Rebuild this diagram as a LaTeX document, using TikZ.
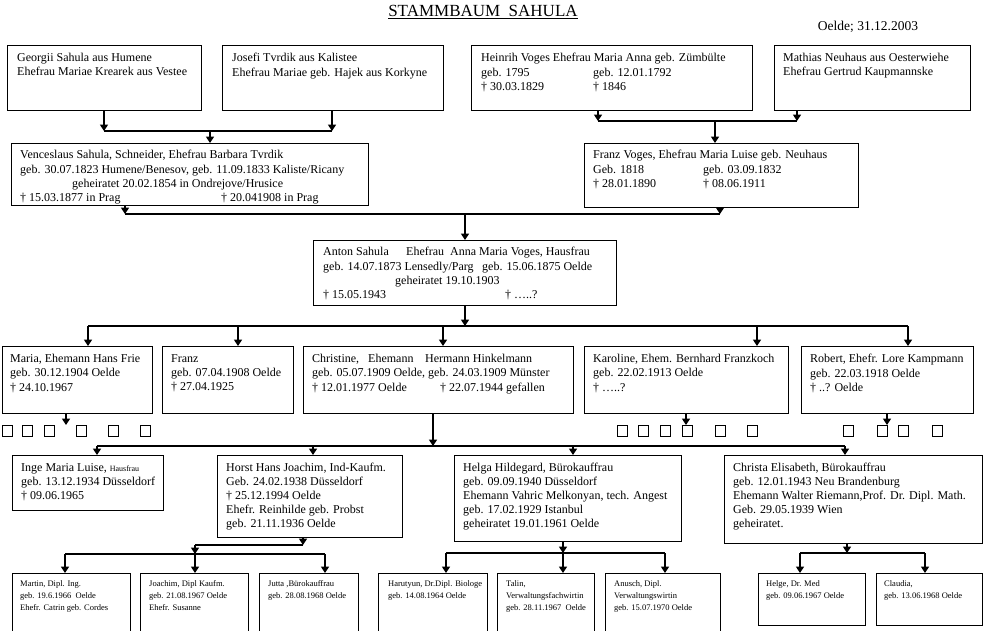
\documentclass[tikz,border=0pt]{standalone}
\usepackage{fontspec}
\setmainfont{Liberation Serif}
\usetikzlibrary{arrows.meta}
\begin{document}
\begin{tikzpicture}[x=1pt,y=-1pt,
  box/.style={draw, line width=0.8pt, rectangle, inner sep=0pt, anchor=north west},
  txt/.style={anchor=north west, inner sep=0pt, align=left, font=\fontsize{12}{14.4}\selectfont},
  txtb/.style={anchor=north west, inner sep=0pt, align=left, font=\fontsize{12}{14}\selectfont},
  small/.style={anchor=north west, inner sep=0pt, align=left, font=\fontsize{8.5}{12}\selectfont},
  con/.style={line width=1.3pt},
  arr/.style={line width=1.8pt, -{Triangle[length=6.5pt,width=8pt]}},
  sq/.style={draw, line width=0.8pt, minimum width=10pt, minimum height=11pt, inner sep=0pt, anchor=north west},
]
\useasboundingbox (0,0) rectangle (986,630);
\clip (0,0) rectangle (986,630);

% title
\node[font=\fontsize{17}{19}\selectfont, inner sep=0pt] (title) at (483,12) {\underline{STAMMBAUM\ \ SAHULA}};
\node[font=\fontsize{13.5}{15}\selectfont, inner sep=0pt] (date) at (868,27) {Oelde; 31.12.2003};

% row 1
\node[box, minimum width=194pt, minimum height=65pt] (g) at (7,45) {};
\node[txt] (gT) at (17,53) {Georgii Sahula aus Humene\\Ehefrau Mariae Krearek aus Vestee};
\node[box, minimum width=221pt, minimum height=65pt] (j) at (222,45) {};
\node[txt] (jT) at (232,53) {Josefi Tvrdik aus Kalistee\\Ehefrau Mariae geb. Hajek aus Korkyne};
\node[box, minimum width=281pt, minimum height=65pt] (h) at (471,45) {};
\node[txt] (hT) at (481,53) {Heinrih Voges Ehefrau Maria Anna geb. Zümbülte\\
  \makebox[112pt][l]{geb. 1795}geb. 12.01.1792\\
  \makebox[112pt][l]{† 30.03.1829}† 1846};
\node[box, minimum width=196pt, minimum height=65pt] (m) at (774,45) {};
\node[txt] (mT) at (783,53) {Mathias Neuhaus aus Oesterwiehe\\Ehefrau Gertrud Kaupmannske};

% row 2
\node[box, minimum width=357pt, minimum height=62pt] (v) at (11,143) {};
\node[txt] (vT) at (20,150) {Venceslaus Sahula, Schneider, Ehefrau Barbara Tvrdik\\
  geb. 30.07.1823 Humene/Benesov, geb. 11.09.1833 Kaliste/Ricany\\
  \hspace*{52pt}geheiratet 20.02.1854 in Ondrejove/Hrusice\\
  \makebox[201pt][l]{† 15.03.1877 in Prag}† 20.041908 in Prag};
\node[box, minimum width=274pt, minimum height=64pt] (f) at (584,143) {};
\node[txt] (fT) at (593,150) {Franz Voges, Ehefrau Maria Luise geb. Neuhaus\\
  \makebox[110pt][l]{Geb. 1818}geb. 03.09.1832\\
  \makebox[110pt][l]{† 28.01.1890}† 08.06.1911};

% row 3
\node[box, minimum width=303pt, minimum height=65pt] (a) at (313,240) {};
\node[txt] (aT) at (323,247) {\makebox[83pt][l]{Anton Sahula}Ehefrau\ \ Anna Maria Voges, Hausfrau\\
  \makebox[159pt][l]{geb. 14.07.1873 Lensedly/Parg}geb. 15.06.1875 Oelde\\
  \hspace*{72pt}geheiratet 19.10.1903\\
  \makebox[182pt][l]{† 15.05.1943}† …..?};

% row 4
\node[box, minimum width=150pt, minimum height=67pt] (c1) at (2,346) {};
\node[txt] (c1T) at (10,354) {Maria, Ehemann Hans Frie\\geb. 30.12.1904 Oelde\\† 24.10.1967};
\node[box, minimum width=131pt, minimum height=67pt] (c2) at (162,346) {};
\node[txt] (c2T) at (171,354) {Franz\\geb. 07.04.1908 Oelde\\† 27.04.1925};
\node[box, minimum width=270pt, minimum height=67pt] (c3) at (303,346) {};
\node[txt] (c3T) at (312,354) {\makebox[56pt][l]{Christine,}\makebox[57pt][l]{Ehemann}Hermann Hinkelmann\\
  geb. 05.07.1909 Oelde, geb. 24.03.1909 Münster\\
  \makebox[128pt][l]{† 12.01.1977 Oelde}† 22.07.1944 gefallen};
\node[box, minimum width=204pt, minimum height=67pt] (c4) at (584,346) {};
\node[txt] (c4T) at (593,354) {Karoline, Ehem. Bernhard Franzkoch\\geb. 22.02.1913 Oelde\\† …..?};
\node[box, minimum width=172pt, minimum height=67pt] (c5) at (801,346) {};
\node[txt] (c5T) at (810,354) {Robert, Ehefr. Lore Kampmann\\geb. 22.03.1918 Oelde\\† ..? Oelde};

% small squares
\foreach \i/\x in {1/2,2/22,3/44,4/76,5/108,6/140}{\node[sq] (s1\i) at (\x,425) {};}
\foreach \i/\x in {1/617,2/638,3/660,4/682,5/715,6/747}{\node[sq] (s4\i) at (\x,425) {};}
\foreach \i/\x in {1/843,2/877,3/898,4/932}{\node[sq] (s5\i) at (\x,425) {};}

% row 5
\node[box, minimum width=151pt, minimum height=55pt] (g1) at (12,455) {};
\node[txtb] (g1T) at (21,463) {Inge Maria Luise, {\fontsize{8}{10}\selectfont Hausfrau}\\geb. 13.12.1934 Düsseldorf\\† 09.06.1965};
\node[box, minimum width=185pt, minimum height=82pt] (g2) at (217,455) {};
\node[txtb] (g2T) at (226,463) {Horst Hans Joachim, Ind-Kaufm.\\Geb. 24.02.1938 Düsseldorf\\† 25.12.1994 Oelde\\Ehefr. Reinhilde geb. Probst\\geb. 21.11.1936 Oelde};
\node[box, minimum width=227pt, minimum height=86pt] (g3) at (454,455) {};
\node[txtb] (g3T) at (463,463) {Helga Hildegard, Bürokauffrau\\geb. 09.09.1940 Düsseldorf\\Ehemann Vahric Melkonyan, tech. Angest\\geb. 17.02.1929 Istanbul\\geheiratet 19.01.1961 Oelde};
\node[box, minimum width=258pt, minimum height=88pt] (g4) at (724,455) {};
\node[txtb] (g4T) at (733,463) {Christa Elisabeth, Bürokauffrau\\geb. 12.01.1943 Neu Brandenburg\\Ehemann Walter Riemann,Prof. Dr. Dipl. Math.\\Geb. 29.05.1939 Wien\\geheiratet.};

% row 6
\node[box, minimum width=118pt, minimum height=70pt] (e1) at (12,573) {};
\node[small] (e1T) at (20,580) {Martin, Dipl. Ing.\\geb. 19.6.1966\ \ Oelde\\Ehefr. Catrin geb. Cordes};
\node[box, minimum width=108pt, minimum height=70pt] (e2) at (140,573) {};
\node[small] (e2T) at (149,580) {Joachim, Dipl Kaufm.\\geb. 21.08.1967 Oelde\\Ehefr. Susanne};
\node[box, minimum width=99pt, minimum height=70pt] (e3) at (259,573) {};
\node[small] (e3T) at (268,580) {Jutta ,Bürokauffrau\\geb. 28.08.1968 Oelde};
\node[box, minimum width=109pt, minimum height=70pt] (e4) at (378,573) {};
\node[small] (e4T) at (388,580) {Harutyun, Dr.Dipl. Biologe\\geb. 14.08.1964 Oelde};
\node[box, minimum width=97pt, minimum height=70pt] (e5) at (497,573) {};
\node[small] (e5T) at (506,580) {Talin,\\Verwaltungsfachwirtin\\geb. 28.11.1967\ \ Oelde};
\node[box, minimum width=115pt, minimum height=70pt] (e6) at (605,573) {};
\node[small] (e6T) at (614,580) {Anusch, Dipl.\\Verwaltungswirtin\\geb. 15.07.1970 Oelde};
\node[box, minimum width=107pt, minimum height=52pt] (e7) at (758,573) {};
\node[small] (e7T) at (766,580) {Helge, Dr. Med\\geb. 09.06.1967 Oelde};
\node[box, minimum width=106pt, minimum height=52pt] (e8) at (876,573) {};
\node[small] (e8T) at (884,580) {Claudia,\\geb. 13.06.1968 Oelde};

% connectors row1 -> V
\coordinate (j1L) at (104,131); \coordinate (j1R) at (332,131); \coordinate (j1M) at (210,131);
\draw[arr] (j1L |- g.south) -- (j1L);
\draw[arr] (j1R |- j.south) -- (j1R);
\draw[con] (j1L) -- (j1R);
\draw[arr] (j1M) -- (j1M |- v.north);

% H, M -> F
\coordinate (j2L) at (598,121); \coordinate (j2R) at (797,121); \coordinate (j2M) at (715,121);
\draw[arr] (j2L |- h.south) -- (j2L);
\draw[arr] (j2R |- m.south) -- (j2R);
\draw[con] (j2L) -- (j2R);
\draw[arr] (j2M) -- (j2M |- f.north);

% V, F -> A
\coordinate (j3L) at (125,214); \coordinate (j3R) at (720,214); \coordinate (j3M) at (465,214);
\draw[arr] (j3L |- v.south) -- (j3L);
\draw[arr] (j3R |- f.south) -- (j3R);
\draw[con] (j3L) -- (j3R);
\draw[arr] (j3M) -- (j3M |- a.north);

% A -> children
\coordinate (j4L) at (88,326); \coordinate (j4R) at (908,326); \coordinate (j4M) at (465,326);
\draw[arr] (j4M |- a.south) -- (j4M);
\draw[con] (j4L) -- (j4R);
\foreach \x/\n in {88/c1,238/c2,443/c3,757/c4,908/c5}{\draw[arr] (\x,326) -- (\x,346 |- \n.north);}

% children -> squares
\coordinate (q1) at (66,425); \coordinate (q4) at (686,425); \coordinate (q5) at (887,425);
\draw[arr] (q1 |- c1.south) -- (q1);
\draw[arr] (q4 |- c4.south) -- (q4);
\draw[arr] (q5 |- c5.south) -- (q5);

% Christine -> grandchildren
\coordinate (j5L) at (97,446); \coordinate (j5R) at (845,446); \coordinate (j5M) at (433,446);
\draw[arr] (j5M |- c3.south) -- (j5M);
\draw[con] (j5L) -- (j5R);
\foreach \x/\n in {97/g1,313/g2,573/g3,845/g4}{\draw[arr] (\x,446) -- (\x,455 |- \n.north);}

% Horst -> children
\coordinate (j6a) at (303,545); \coordinate (j6b) at (195,545); \coordinate (j6M) at (195,554);
\coordinate (j7L) at (65,554); \coordinate (j7R) at (325,554);
\draw[arr] (j6a |- g2.south) -- (j6a);
\draw[con] (j6a) -- (j6b);
\draw[arr] (j6b) -- (j6M);
\draw[con] (j7L) -- (j7R);
\foreach \x/\n in {65/e1,195/e2,325/e3}{\draw[arr] (\x,554) -- (\x,573 |- \n.north);}

% Helga -> children
\coordinate (j8L) at (446,553); \coordinate (j8R) at (665,553); \coordinate (j8M) at (563,553);
\draw[arr] (j8M |- g3.south) -- (j8M);
\draw[con] (j8L) -- (j8R);
\foreach \x/\n in {446/e4,563/e5,665/e6}{\draw[arr] (\x,553) -- (\x,573 |- \n.north);}

% Christa -> children
\coordinate (j9L) at (800,553); \coordinate (j9R) at (925,553); \coordinate (j9M) at (847,553);
\draw[arr] (j9M |- g4.south) -- (j9M);
\draw[con] (j9L) -- (j9R);
\foreach \x/\n in {800/e7,925/e8}{\draw[arr] (\x,553) -- (\x,573 |- \n.north);}
\end{tikzpicture}
\end{document}
